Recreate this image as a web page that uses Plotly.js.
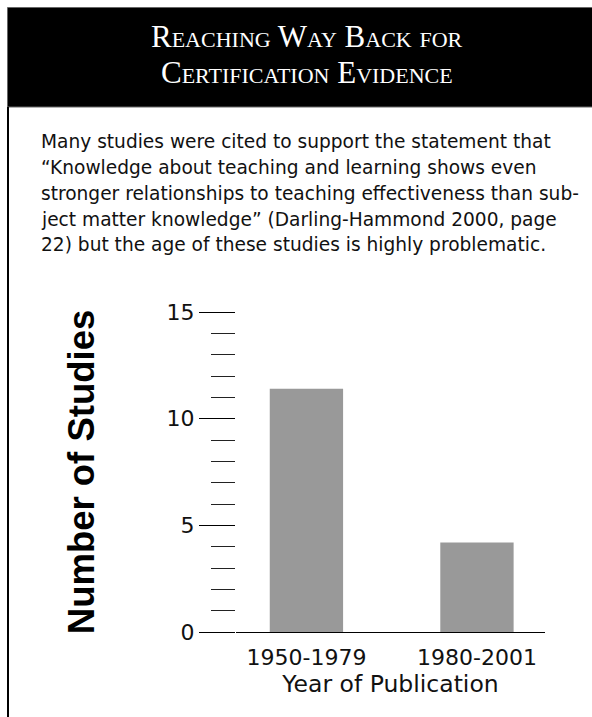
<!DOCTYPE html>
<html>
<head>
<meta charset="utf-8">
<script src="https://cdn.plot.ly/plotly-3.0.1.min.js"></script>
<style>html,body{margin:0;padding:0;background:#fff;}#chart{width:592px;height:717px;}</style>
</head>
<body>
<div id="chart"></div>
<script>
// Data
var categories = ['1950-1979', '1980-2001'];
var studyCounts = [11.4, 4.2];
var yTickValues = [0, 5, 10, 15];
var titleLines = ['Reaching Way Back for', 'Certification Evidence'];
var paragraphLines = [
  'Many studies were cited to support the statement that',
  '\u201CKnowledge about teaching and learning shows even',
  'stronger relationships to teaching effectiveness than sub-',
  'ject matter knowledge\u201D (Darling-Hammond 2000, page',
  '22) but the age of these studies is highly problematic.'
];
var xTitle = 'Year of Publication';
var yTitle = 'Number of Studies';

// Layout geometry (pixels)
var W = 592, H = 717;
var mL = 236, mR = 47, mT = 312, mB = 85;
var pw = W - mL - mR, ph = H - mT - mB;
function px(x) { return (x - mL) / pw; }
function py(y) { return (H - mB - y) / ph; }

var sans = 'DejaVu Sans, Liberation Sans, Arial, sans-serif';
var lineY = [141, 167, 193, 219, 245];
var annotations = paragraphLines.map(function (t, i) {
  return {
    text: t, xref: 'paper', yref: 'paper', x: px(39), y: py(lineY[i]),
    xanchor: 'left', yanchor: 'middle', showarrow: false,
    font: { family: sans, size: 18.6, color: '#111' }
  };
});
var titleY = [36, 72];
titleLines.forEach(function (t, i) {
  annotations.push({
    text: t, xref: 'paper', yref: 'paper', x: px(307), y: py(titleY[i]),
    xanchor: 'center', yanchor: 'middle', showarrow: false,
    font: { family: 'Liberation Serif, serif', size: 31, color: '#ffffff', variant: 'small-caps' }
  });
});

var trace = {
  type: 'bar', x: categories, y: studyCounts, width: 0.43,
  marker: { color: '#999999', line: { width: 0 } },
  hoverinfo: 'x+y'
};

var layout = {
  width: W, height: H,
  margin: { l: mL, r: mR, t: mT, b: mB, pad: 0 },
  paper_bgcolor: '#ffffff', plot_bgcolor: '#ffffff',
  showlegend: false,
  xaxis: {
    type: 'category', range: [-0.413, 1.399], showgrid: false, zeroline: false,
    showline: true, linecolor: '#000', linewidth: 1, ticks: '',
    ticklabelstandoff: 6,
    tickfont: { family: sans, size: 22, color: '#111' },
    title: { text: xTitle, standoff: 1, font: { family: sans, size: 23.5, color: '#111' } },
    fixedrange: true
  },
  yaxis: {
    range: [0, 15], tickvals: yTickValues, showgrid: false, zeroline: false, showline: false,
    ticks: 'outside', ticklen: 36, tickwidth: 1, tickcolor: '#000',
    minor: { dtick: 1, ticks: 'outside', ticklen: 24, tickwidth: 1, tickcolor: '#222' },
    tickfont: { family: sans, size: 22, color: '#111' },
    title: { text: yTitle, standoff: 60, font: { family: 'Liberation Sans, Arial, sans-serif', size: 36.5, color: '#000', weight: 'bold' } },
    fixedrange: true
  },
  shapes: [
    { type: 'rect', xref: 'paper', yref: 'paper', x0: px(7.5), x1: px(610), y0: py(107), y1: py(7.5),
      fillcolor: '#000', line: { color: '#666', width: 1 }, layer: 'below' },
    { type: 'line', xref: 'paper', yref: 'paper', x0: px(8), x1: px(8), y0: py(107), y1: py(730),
      line: { color: '#000', width: 2 } }
  ],
  annotations: annotations
};

Plotly.newPlot('chart', [trace], layout, { displayModeBar: false, staticPlot: true });
</script>
</body>
</html>
